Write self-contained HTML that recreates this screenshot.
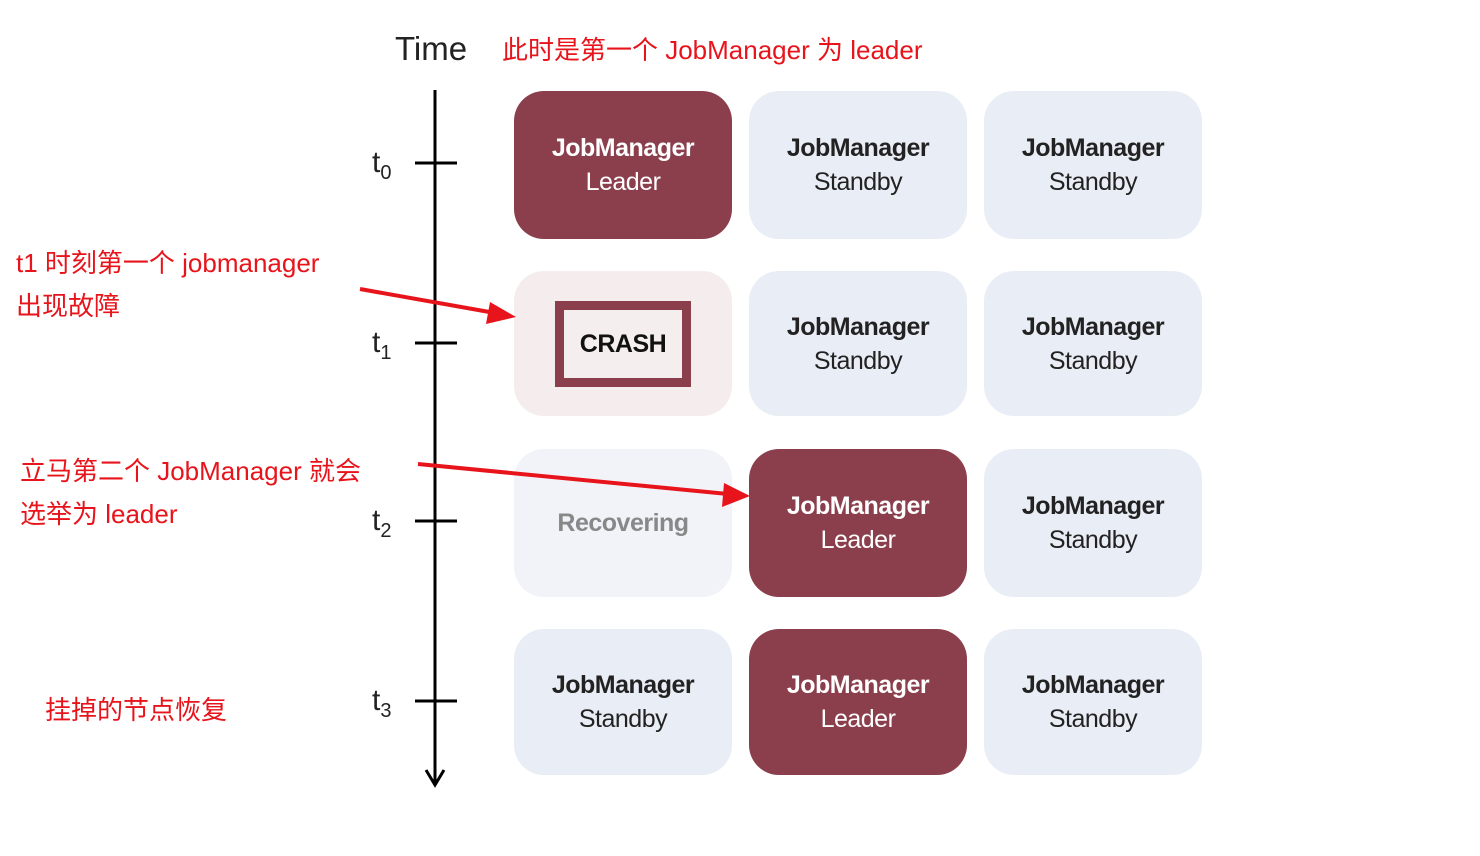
<!DOCTYPE html>
<html><head><meta charset="utf-8"><style>
body{margin:0;background:#fff;width:1480px;height:856px;position:relative;overflow:hidden;font-family:"Liberation Sans","Noto Sans CJK SC",sans-serif}
.b{position:absolute;width:218px;border-radius:30px;display:flex;flex-direction:column;align-items:center;justify-content:center;font-size:25px;line-height:34px;letter-spacing:-0.5px}
.l{background:#8b3f4c;color:#fff}
.s{background:#e9edf5;color:#222}
.b b{font-weight:bold}
.t{position:absolute;color:#e8141b;font-size:26px;white-space:nowrap}
.tk{position:absolute;font-size:30px;color:#222;left:372px}
.tk sub{font-size:20px}
</style></head><body>
<div style="position:absolute;left:395px;top:30px;font-size:33px;color:#222">Time</div>
<div class="t" style="left:502px;top:30px">此时是第一个 JobManager 为 leader</div>
<div class="t" style="left:16px;top:242px;line-height:43px">t1 时刻第一个 jobmanager<br>出现故障</div>
<div class="t" style="left:20px;top:450px;line-height:43px">立马第二个 JobManager 就会<br>选举为 leader</div>
<div class="t" style="left:45px;top:690px">挂掉的节点恢复</div>

<div class="tk" style="top:146px">t<sub>0</sub></div>
<div class="tk" style="top:326px">t<sub>1</sub></div>
<div class="tk" style="top:504px">t<sub>2</sub></div>
<div class="tk" style="top:684px">t<sub>3</sub></div>

<div class="b l" style="left:514px;top:91px;height:148px"><b>JobManager</b>Leader</div>
<div class="b s" style="left:749px;top:91px;height:148px"><b>JobManager</b>Standby</div>
<div class="b s" style="left:984px;top:91px;height:148px"><b>JobManager</b>Standby</div>

<div class="b" style="left:514px;top:271px;height:145px;background:#f5eded"><div style="width:118px;height:68px;border:9px solid #8b3f4c;background:#f5eeee;display:flex;align-items:center;justify-content:center;font-weight:bold;color:#111;font-size:25px">CRASH</div></div>
<div class="b s" style="left:749px;top:271px;height:145px"><b>JobManager</b>Standby</div>
<div class="b s" style="left:984px;top:271px;height:145px"><b>JobManager</b>Standby</div>

<div class="b" style="left:514px;top:449px;height:148px;background:#f2f3f8;color:#888"><b>Recovering</b></div>
<div class="b l" style="left:749px;top:449px;height:148px"><b>JobManager</b>Leader</div>
<div class="b s" style="left:984px;top:449px;height:148px"><b>JobManager</b>Standby</div>

<div class="b s" style="left:514px;top:629px;height:146px"><b>JobManager</b>Standby</div>
<div class="b l" style="left:749px;top:629px;height:146px"><b>JobManager</b>Leader</div>
<div class="b s" style="left:984px;top:629px;height:146px"><b>JobManager</b>Standby</div>

<svg width="1480" height="856" style="position:absolute;left:0;top:0">
<g stroke="#000" stroke-width="3" fill="none">
<line x1="435" y1="90" x2="435" y2="784"/>
<polyline points="426,770 435,785 444,770"/>
<line x1="415" y1="163" x2="457" y2="163"/>
<line x1="415" y1="343" x2="457" y2="343"/>
<line x1="415" y1="521" x2="457" y2="521"/>
<line x1="415" y1="701" x2="457" y2="701"/>
</g>
<g stroke="#e8141b" stroke-width="4" fill="#e8141b">
<line x1="360" y1="289" x2="495" y2="313"/>
<polygon points="516,317 490,302 486,324" stroke="none"/>
<line x1="418" y1="464" x2="728" y2="494"/>
<polygon points="750,496 724,483 722,507" stroke="none"/>
</g>
</svg>
</body></html>
